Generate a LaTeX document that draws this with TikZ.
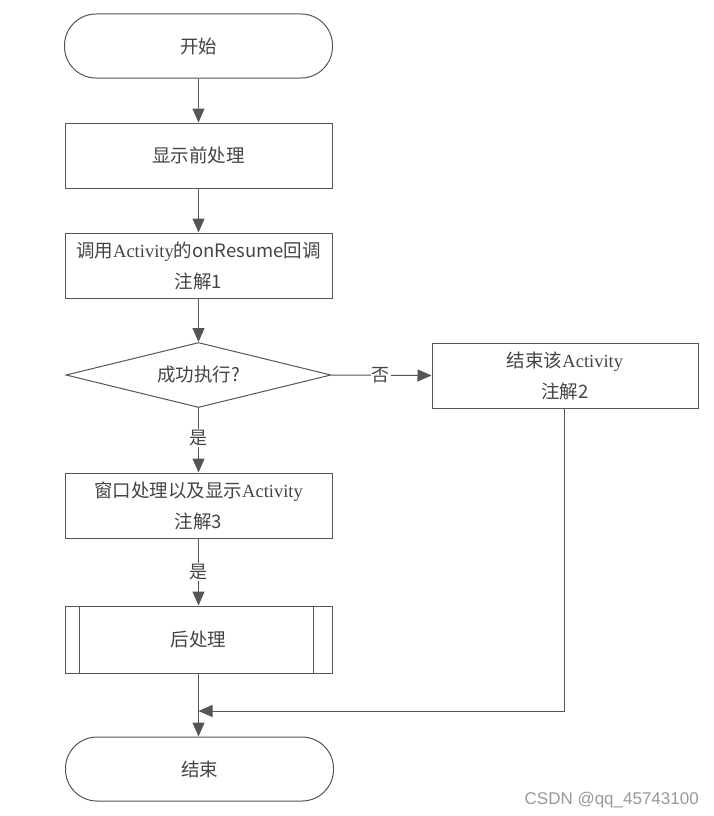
\documentclass[tikz,border=0pt]{standalone}
\usepackage{fontspec}
\setmainfont{Liberation Serif}
\newfontfamily\cjk{Noto Sans CJK SC}
\newfontfamily\wmfont{Liberation Sans}
\usetikzlibrary{shapes.geometric,arrows.meta}
\definecolor{linec}{HTML}{555555}
\definecolor{textc}{HTML}{444444}
\tikzset{
  base/.style={draw=linec, line width=1pt, text=textc, font=\fontsize{18.5}{31}\selectfont\cjk, align=center, inner sep=0pt},
  terminal/.style={base, rectangle, rounded corners=31.5pt, minimum width=268pt, minimum height=64pt},
  procbox/.style={base, rectangle, minimum width=267pt, minimum height=65pt},
  decbox/.style={base, diamond, aspect=4.1, minimum width=265pt, minimum height=65pt},
  flow/.style={draw=linec, line width=1pt, -{Triangle[length=14pt,width=12pt]}},
  elabel/.style={fill=white, text=textc, font=\fontsize{18}{20}\selectfont\cjk, inner sep=1pt}
}
\begin{document}
\begin{tikzpicture}[x=1pt,y=-1pt]
\useasboundingbox[fill=white] (0,0) rectangle (713,816);
\node[terminal] (start) at (198.5,46) {开始};
\node[procbox] (pre) at (198.5,155.5) {显示前处理};
\node[procbox] (resume) at (198.5,265.5) {调用{\rmfamily Activity}的onResume回调\\注解1};
\node[decbox] (dec) at (198.5,375) {成功执行?};
\node[procbox, minimum width=266pt] (finish) at (565,375.5) {结束该{\rmfamily Activity}\\注解2};
\node[procbox] (win) at (198.5,505.5) {窗口处理以及显示{\rmfamily Activity}\\注解3};
\node[procbox, minimum height=67pt] (post) at (198.5,639.5) {后处理};
\draw[draw=linec, line width=1pt] ([xshift=15pt]post.north west) -- ([xshift=15pt]post.south west)
  ([xshift=-19pt]post.north east) -- ([xshift=-19pt]post.south east);
\node[terminal] (stop) at (199.5,769) {结束};
\coordinate (merge) at (198.5,711);
\draw[flow] (start) -- (pre);
\draw[flow] (pre) -- (resume);
\draw[flow] (resume) -- (dec);
\draw[flow] (dec.east) -- node[elabel, pos=0.49] (no) {否} (finish.west);
\draw[flow] (dec.south) -- node[elabel, pos=0.46] (yes1) {是} (win.north);
\draw[flow] (win.south) -- node[elabel, pos=0.5] (yes2) {是} (post.north);
\draw[flow] (post.south) -- (post.south |- stop.north);
\draw[flow] ([xshift=-1pt]finish.south) |- (merge);
\node[anchor=east, text=gray!80, font=\fontsize{17}{20}\selectfont\wmfont, inner sep=0pt] (wm) at (699,800) {CSDN @qq\_45743100};
\end{tikzpicture}
\end{document}
